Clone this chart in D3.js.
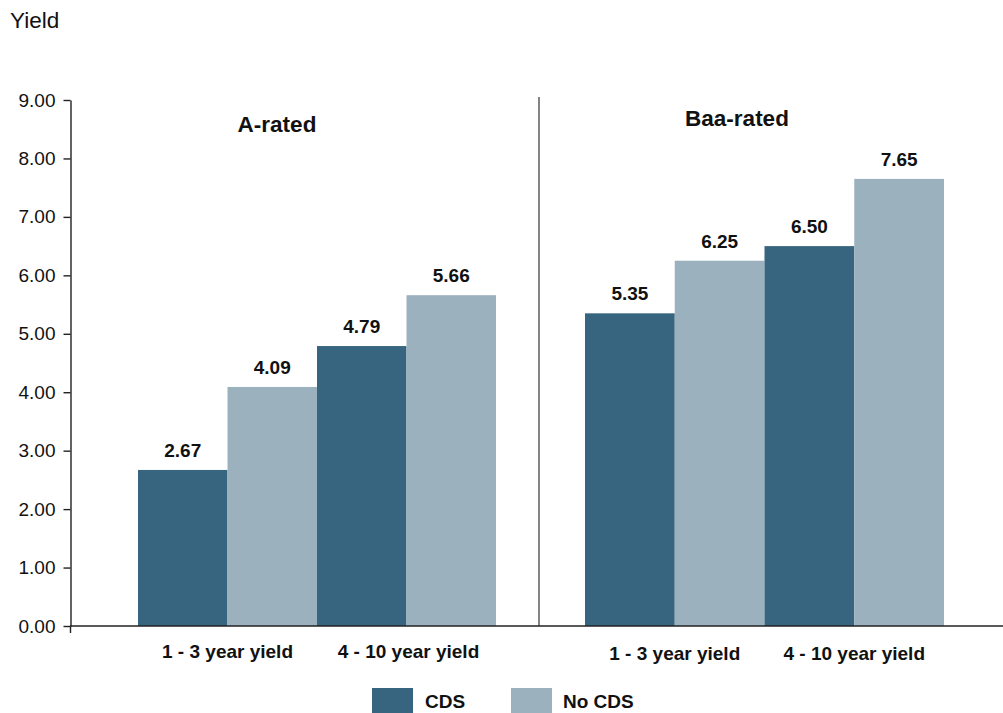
<!DOCTYPE html>
<html>
<head>
<meta charset="utf-8">
<script src="https://cdn.jsdelivr.net/npm/d3@7"></script>
<style>
  body { margin: 0; background: #fff; }
  svg { display: block; font-family: "Liberation Sans", Arial, sans-serif; }
</style>
</head>
<body>
<div id="viz"></div>
<script>
// Data
const panels = ['A-rated', 'Baa-rated'];
const categories = ['1 - 3 year yield', '4 - 10 year yield'];
const series = ['CDS', 'No CDS'];
const aRated = [[2.67, 4.09], [4.79, 5.66]];   // [category][series]
const baaRated = [[5.35, 6.25], [6.50, 7.65]];
const yTicks = [0, 1, 2, 3, 4, 5, 6, 7, 8, 9];

const colors = { 'CDS': '#37647e', 'No CDS': '#9bb1be' };
const FONT = '"Liberation Sans", Arial, sans-serif';

const W = 1003, H = 713;
const svg = d3.select('#viz').append('svg')
  .attr('width', W)
  .attr('height', H);

// Scales
const y = d3.scaleLinear().domain([0, 9]).range([626, 100]);
const panelRanges = [[138, 496], [585, 944]];
const panelData = [aRated, baaRated];

// Y axis title
svg.append('text')
  .attr('x', 10)
  .attr('y', 28)
  .attr('font-size', 22.5)
  .attr('fill', '#111')
  .text('Yield');

// Y axis
const yAxis = svg.append('g')
  .attr('transform', 'translate(70.5,0)')
  .call(d3.axisLeft(y).tickValues(yTicks).tickFormat(d3.format('.2f')).tickSize(7).tickSizeOuter(0));
yAxis.select('.domain').attr('stroke', '#222').attr('stroke-width', 1.4);
yAxis.selectAll('.tick line').attr('stroke', '#222').attr('stroke-width', 1.4);
yAxis.selectAll('.tick text')
  .attr('font-size', 19)
  .attr('font-family', FONT)
  .attr('fill', '#111')
  .attr('x', -15);

// small tick below origin
svg.append('line')
  .attr('x1', 70.5).attr('x2', 70.5)
  .attr('y1', y(0)).attr('y2', y(0) + 7)
  .attr('stroke', '#222').attr('stroke-width', 1.4);

// Panels
panels.forEach((panel, pi) => {
  const x0 = d3.scaleBand().domain(categories).range(panelRanges[pi]);
  const x1 = d3.scaleBand().domain(series).range([0, x0.bandwidth()]);
  const g = svg.append('g');

  categories.forEach((cat, ci) => {
    series.forEach((s, si) => {
      const v = panelData[pi][ci][si];
      const bx = x0(cat) + x1(s);
      g.append('rect')
        .attr('x', bx)
        .attr('y', y(v))
        .attr('width', x1.bandwidth())
        .attr('height', y(0) - y(v))
        .attr('fill', colors[s]);
      g.append('text')
        .attr('x', bx + x1.bandwidth() / 2)
        .attr('y', y(v) - 13)
        .attr('text-anchor', 'middle')
        .attr('font-size', 19)
        .attr('font-weight', 'bold')
        .attr('fill', '#111')
        .text(v.toFixed(2));
    });
    g.append('text')
      .attr('x', x0(cat) + x0.bandwidth() / 2 + (ci === 1 && pi === 0 ? 2 : 0))
      .attr('y', pi === 0 ? 658 : 660)
      .attr('text-anchor', 'middle')
      .attr('font-size', 19)
      .attr('font-weight', 'bold')
      .attr('fill', '#111')
      .text(cat);
  });

  g.append('text')
    .attr('x', pi === 0 ? 277 : 737)
    .attr('y', pi === 0 ? 132 : 126)
    .attr('text-anchor', 'middle')
    .attr('font-size', 22.5)
    .attr('font-weight', 'bold')
    .attr('fill', '#111')
    .text(panel);
});

// Panel divider
svg.append('line')
  .attr('x1', 539).attr('x2', 539)
  .attr('y1', 97).attr('y2', y(0))
  .attr('stroke', '#333').attr('stroke-width', 1.2);

// X axis baseline
svg.append('line')
  .attr('x1', 70).attr('x2', W)
  .attr('y1', y(0)).attr('y2', y(0))
  .attr('stroke', '#222').attr('stroke-width', 1.4);

// Legend
const legendX = [372, 511];
series.forEach((s, i) => {
  svg.append('rect')
    .attr('x', legendX[i]).attr('y', 688)
    .attr('width', 41).attr('height', 25)
    .attr('fill', colors[s]);
  svg.append('text')
    .attr('x', legendX[i] + (i === 0 ? 53 : 52))
    .attr('y', 708)
    .attr('font-size', 19)
    .attr('font-weight', 'bold')
    .attr('fill', '#111')
    .text(s);
});
</script>
</body>
</html>
